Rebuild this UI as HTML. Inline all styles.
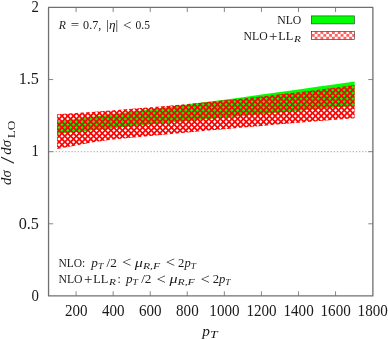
<!DOCTYPE html>
<html><head><meta charset="utf-8"><title>plot</title>
<style>
html,body{margin:0;padding:0;background:#fff;}
body{width:388px;height:339px;overflow:hidden;font-family:"Liberation Serif",serif;}
svg{display:block;}
text{font-family:"Liberation Serif",serif;fill:#1a1a1a;}
.it{font-style:italic;}
</style></head><body>
<svg width="388" height="339" viewBox="0 0 388 339">
<defs>
<filter id="tf" filterUnits="userSpaceOnUse" x="0" y="0" width="388" height="339" color-interpolation-filters="sRGB"><feColorMatrix type="saturate" values="0"/></filter>
</defs>
<rect width="388" height="339" fill="#fff"/>
<line x1="49.30" y1="151.67" x2="372.89" y2="151.67" stroke="#b8b8b8" stroke-width="1.1" stroke-dasharray="1.3 1.86"/>
<polygon points="57.10,121.24 76.08,118.88 94.61,116.56 113.15,114.21 131.68,111.84 150.22,109.44 168.75,107.03 187.28,104.58 205.82,102.12 224.35,99.64 242.89,97.13 261.42,94.59 279.95,92.04 298.49,89.46 317.02,86.86 335.56,84.24 354.60,81.52 354.60,105.88 335.56,107.51 317.02,109.11 298.49,110.73 279.95,112.38 261.42,114.05 242.89,115.74 224.35,117.45 205.82,119.19 187.28,120.95 168.75,122.73 150.22,124.53 131.68,126.36 113.15,128.20 94.61,130.07 76.08,131.97 57.10,133.93" fill="#00ff00"/>
<clipPath id="cr"><polygon points="57.10,114.15 76.08,112.91 94.61,111.63 113.15,110.26 131.68,108.81 150.22,107.28 168.75,105.67 187.28,103.99 205.82,102.21 224.35,100.36 242.89,98.43 261.42,96.42 279.95,94.33 298.49,92.15 317.02,89.90 335.56,87.56 354.60,85.08 354.60,118.22 335.56,119.75 317.02,121.26 298.49,122.79 279.95,124.35 261.42,125.93 242.89,127.54 224.35,129.17 205.82,130.82 187.28,132.50 168.75,134.20 150.22,135.93 131.68,137.68 113.15,139.45 94.61,141.90 76.08,145.40 57.10,148.90"/></clipPath>
<path clip-path="url(#cr)" fill="#ff0000" fill-rule="evenodd" d="M50,75 H360 V155 H50 ZM342.54,84.32L344.22,82.64L345.90,84.32L344.22,86.00ZM348.30,84.32L349.98,82.64L351.66,84.32L349.98,86.00ZM354.06,84.32L355.74,82.64L357.42,84.32L355.74,86.00ZM322.38,87.20L324.06,85.52L325.74,87.20L324.06,88.88ZM328.14,87.20L329.82,85.52L331.50,87.20L329.82,88.88ZM333.90,87.20L335.58,85.52L337.26,87.20L335.58,88.88ZM339.66,87.20L341.34,85.52L343.02,87.20L341.34,88.88ZM345.42,87.20L347.10,85.52L348.78,87.20L347.10,88.88ZM351.18,87.20L352.86,85.52L354.54,87.20L352.86,88.88ZM296.46,90.08L298.14,88.40L299.82,90.08L298.14,91.76ZM302.22,90.08L303.90,88.40L305.58,90.08L303.90,91.76ZM307.98,90.08L309.66,88.40L311.34,90.08L309.66,91.76ZM313.74,90.08L315.42,88.40L317.10,90.08L315.42,91.76ZM319.50,90.08L321.18,88.40L322.86,90.08L321.18,91.76ZM325.26,90.08L326.94,88.40L328.62,90.08L326.94,91.76ZM331.02,90.08L332.70,88.40L334.38,90.08L332.70,91.76ZM336.78,90.08L338.46,88.40L340.14,90.08L338.46,91.76ZM342.54,90.08L344.22,88.40L345.90,90.08L344.22,91.76ZM348.30,90.08L349.98,88.40L351.66,90.08L349.98,91.76ZM354.06,90.08L355.74,88.40L357.42,90.08L355.74,91.76ZM276.30,92.96L277.98,91.28L279.66,92.96L277.98,94.64ZM282.06,92.96L283.74,91.28L285.42,92.96L283.74,94.64ZM287.82,92.96L289.50,91.28L291.18,92.96L289.50,94.64ZM293.58,92.96L295.26,91.28L296.94,92.96L295.26,94.64ZM299.34,92.96L301.02,91.28L302.70,92.96L301.02,94.64ZM305.10,92.96L306.78,91.28L308.46,92.96L306.78,94.64ZM310.86,92.96L312.54,91.28L314.22,92.96L312.54,94.64ZM316.62,92.96L318.30,91.28L319.98,92.96L318.30,94.64ZM322.38,92.96L324.06,91.28L325.74,92.96L324.06,94.64ZM328.14,92.96L329.82,91.28L331.50,92.96L329.82,94.64ZM333.90,92.96L335.58,91.28L337.26,92.96L335.58,94.64ZM339.66,92.96L341.34,91.28L343.02,92.96L341.34,94.64ZM345.42,92.96L347.10,91.28L348.78,92.96L347.10,94.64ZM351.18,92.96L352.86,91.28L354.54,92.96L352.86,94.64ZM250.38,95.84L252.06,94.16L253.74,95.84L252.06,97.52ZM256.14,95.84L257.82,94.16L259.50,95.84L257.82,97.52ZM261.90,95.84L263.58,94.16L265.26,95.84L263.58,97.52ZM267.66,95.84L269.34,94.16L271.02,95.84L269.34,97.52ZM273.42,95.84L275.10,94.16L276.78,95.84L275.10,97.52ZM279.18,95.84L280.86,94.16L282.54,95.84L280.86,97.52ZM284.94,95.84L286.62,94.16L288.30,95.84L286.62,97.52ZM290.70,95.84L292.38,94.16L294.06,95.84L292.38,97.52ZM296.46,95.84L298.14,94.16L299.82,95.84L298.14,97.52ZM302.22,95.84L303.90,94.16L305.58,95.84L303.90,97.52ZM307.98,95.84L309.66,94.16L311.34,95.84L309.66,97.52ZM313.74,95.84L315.42,94.16L317.10,95.84L315.42,97.52ZM319.50,95.84L321.18,94.16L322.86,95.84L321.18,97.52ZM325.26,95.84L326.94,94.16L328.62,95.84L326.94,97.52ZM331.02,95.84L332.70,94.16L334.38,95.84L332.70,97.52ZM336.78,95.84L338.46,94.16L340.14,95.84L338.46,97.52ZM342.54,95.84L344.22,94.16L345.90,95.84L344.22,97.52ZM348.30,95.84L349.98,94.16L351.66,95.84L349.98,97.52ZM354.06,95.84L355.74,94.16L357.42,95.84L355.74,97.52ZM218.70,98.72L220.38,97.04L222.06,98.72L220.38,100.40ZM224.46,98.72L226.14,97.04L227.82,98.72L226.14,100.40ZM230.22,98.72L231.90,97.04L233.58,98.72L231.90,100.40ZM235.98,98.72L237.66,97.04L239.34,98.72L237.66,100.40ZM241.74,98.72L243.42,97.04L245.10,98.72L243.42,100.40ZM247.50,98.72L249.18,97.04L250.86,98.72L249.18,100.40ZM253.26,98.72L254.94,97.04L256.62,98.72L254.94,100.40ZM259.02,98.72L260.70,97.04L262.38,98.72L260.70,100.40ZM264.78,98.72L266.46,97.04L268.14,98.72L266.46,100.40ZM270.54,98.72L272.22,97.04L273.90,98.72L272.22,100.40ZM276.30,98.72L277.98,97.04L279.66,98.72L277.98,100.40ZM282.06,98.72L283.74,97.04L285.42,98.72L283.74,100.40ZM287.82,98.72L289.50,97.04L291.18,98.72L289.50,100.40ZM293.58,98.72L295.26,97.04L296.94,98.72L295.26,100.40ZM299.34,98.72L301.02,97.04L302.70,98.72L301.02,100.40ZM305.10,98.72L306.78,97.04L308.46,98.72L306.78,100.40ZM310.86,98.72L312.54,97.04L314.22,98.72L312.54,100.40ZM316.62,98.72L318.30,97.04L319.98,98.72L318.30,100.40ZM322.38,98.72L324.06,97.04L325.74,98.72L324.06,100.40ZM328.14,98.72L329.82,97.04L331.50,98.72L329.82,100.40ZM333.90,98.72L335.58,97.04L337.26,98.72L335.58,100.40ZM339.66,98.72L341.34,97.04L343.02,98.72L341.34,100.40ZM345.42,98.72L347.10,97.04L348.78,98.72L347.10,100.40ZM351.18,98.72L352.86,97.04L354.54,98.72L352.86,100.40ZM192.78,101.60L194.46,99.92L196.14,101.60L194.46,103.28ZM198.54,101.60L200.22,99.92L201.90,101.60L200.22,103.28ZM204.30,101.60L205.98,99.92L207.66,101.60L205.98,103.28ZM210.06,101.60L211.74,99.92L213.42,101.60L211.74,103.28ZM215.82,101.60L217.50,99.92L219.18,101.60L217.50,103.28ZM221.58,101.60L223.26,99.92L224.94,101.60L223.26,103.28ZM227.34,101.60L229.02,99.92L230.70,101.60L229.02,103.28ZM233.10,101.60L234.78,99.92L236.46,101.60L234.78,103.28ZM238.86,101.60L240.54,99.92L242.22,101.60L240.54,103.28ZM244.62,101.60L246.30,99.92L247.98,101.60L246.30,103.28ZM250.38,101.60L252.06,99.92L253.74,101.60L252.06,103.28ZM256.14,101.60L257.82,99.92L259.50,101.60L257.82,103.28ZM261.90,101.60L263.58,99.92L265.26,101.60L263.58,103.28ZM267.66,101.60L269.34,99.92L271.02,101.60L269.34,103.28ZM273.42,101.60L275.10,99.92L276.78,101.60L275.10,103.28ZM279.18,101.60L280.86,99.92L282.54,101.60L280.86,103.28ZM284.94,101.60L286.62,99.92L288.30,101.60L286.62,103.28ZM290.70,101.60L292.38,99.92L294.06,101.60L292.38,103.28ZM296.46,101.60L298.14,99.92L299.82,101.60L298.14,103.28ZM302.22,101.60L303.90,99.92L305.58,101.60L303.90,103.28ZM307.98,101.60L309.66,99.92L311.34,101.60L309.66,103.28ZM313.74,101.60L315.42,99.92L317.10,101.60L315.42,103.28ZM319.50,101.60L321.18,99.92L322.86,101.60L321.18,103.28ZM325.26,101.60L326.94,99.92L328.62,101.60L326.94,103.28ZM331.02,101.60L332.70,99.92L334.38,101.60L332.70,103.28ZM336.78,101.60L338.46,99.92L340.14,101.60L338.46,103.28ZM342.54,101.60L344.22,99.92L345.90,101.60L344.22,103.28ZM348.30,101.60L349.98,99.92L351.66,101.60L349.98,103.28ZM354.06,101.60L355.74,99.92L357.42,101.60L355.74,103.28ZM161.10,104.48L162.78,102.80L164.46,104.48L162.78,106.16ZM166.86,104.48L168.54,102.80L170.22,104.48L168.54,106.16ZM172.62,104.48L174.30,102.80L175.98,104.48L174.30,106.16ZM178.38,104.48L180.06,102.80L181.74,104.48L180.06,106.16ZM184.14,104.48L185.82,102.80L187.50,104.48L185.82,106.16ZM189.90,104.48L191.58,102.80L193.26,104.48L191.58,106.16ZM195.66,104.48L197.34,102.80L199.02,104.48L197.34,106.16ZM201.42,104.48L203.10,102.80L204.78,104.48L203.10,106.16ZM207.18,104.48L208.86,102.80L210.54,104.48L208.86,106.16ZM212.94,104.48L214.62,102.80L216.30,104.48L214.62,106.16ZM218.70,104.48L220.38,102.80L222.06,104.48L220.38,106.16ZM224.46,104.48L226.14,102.80L227.82,104.48L226.14,106.16ZM230.22,104.48L231.90,102.80L233.58,104.48L231.90,106.16ZM235.98,104.48L237.66,102.80L239.34,104.48L237.66,106.16ZM241.74,104.48L243.42,102.80L245.10,104.48L243.42,106.16ZM247.50,104.48L249.18,102.80L250.86,104.48L249.18,106.16ZM253.26,104.48L254.94,102.80L256.62,104.48L254.94,106.16ZM259.02,104.48L260.70,102.80L262.38,104.48L260.70,106.16ZM264.78,104.48L266.46,102.80L268.14,104.48L266.46,106.16ZM270.54,104.48L272.22,102.80L273.90,104.48L272.22,106.16ZM276.30,104.48L277.98,102.80L279.66,104.48L277.98,106.16ZM282.06,104.48L283.74,102.80L285.42,104.48L283.74,106.16ZM287.82,104.48L289.50,102.80L291.18,104.48L289.50,106.16ZM293.58,104.48L295.26,102.80L296.94,104.48L295.26,106.16ZM299.34,104.48L301.02,102.80L302.70,104.48L301.02,106.16ZM305.10,104.48L306.78,102.80L308.46,104.48L306.78,106.16ZM310.86,104.48L312.54,102.80L314.22,104.48L312.54,106.16ZM316.62,104.48L318.30,102.80L319.98,104.48L318.30,106.16ZM322.38,104.48L324.06,102.80L325.74,104.48L324.06,106.16ZM328.14,104.48L329.82,102.80L331.50,104.48L329.82,106.16ZM333.90,104.48L335.58,102.80L337.26,104.48L335.58,106.16ZM339.66,104.48L341.34,102.80L343.02,104.48L341.34,106.16ZM345.42,104.48L347.10,102.80L348.78,104.48L347.10,106.16ZM351.18,104.48L352.86,102.80L354.54,104.48L352.86,106.16ZM123.66,107.36L125.34,105.68L127.02,107.36L125.34,109.04ZM129.42,107.36L131.10,105.68L132.78,107.36L131.10,109.04ZM135.18,107.36L136.86,105.68L138.54,107.36L136.86,109.04ZM140.94,107.36L142.62,105.68L144.30,107.36L142.62,109.04ZM146.70,107.36L148.38,105.68L150.06,107.36L148.38,109.04ZM152.46,107.36L154.14,105.68L155.82,107.36L154.14,109.04ZM158.22,107.36L159.90,105.68L161.58,107.36L159.90,109.04ZM163.98,107.36L165.66,105.68L167.34,107.36L165.66,109.04ZM169.74,107.36L171.42,105.68L173.10,107.36L171.42,109.04ZM175.50,107.36L177.18,105.68L178.86,107.36L177.18,109.04ZM181.26,107.36L182.94,105.68L184.62,107.36L182.94,109.04ZM187.02,107.36L188.70,105.68L190.38,107.36L188.70,109.04ZM192.78,107.36L194.46,105.68L196.14,107.36L194.46,109.04ZM198.54,107.36L200.22,105.68L201.90,107.36L200.22,109.04ZM204.30,107.36L205.98,105.68L207.66,107.36L205.98,109.04ZM210.06,107.36L211.74,105.68L213.42,107.36L211.74,109.04ZM215.82,107.36L217.50,105.68L219.18,107.36L217.50,109.04ZM221.58,107.36L223.26,105.68L224.94,107.36L223.26,109.04ZM227.34,107.36L229.02,105.68L230.70,107.36L229.02,109.04ZM233.10,107.36L234.78,105.68L236.46,107.36L234.78,109.04ZM238.86,107.36L240.54,105.68L242.22,107.36L240.54,109.04ZM244.62,107.36L246.30,105.68L247.98,107.36L246.30,109.04ZM250.38,107.36L252.06,105.68L253.74,107.36L252.06,109.04ZM256.14,107.36L257.82,105.68L259.50,107.36L257.82,109.04ZM261.90,107.36L263.58,105.68L265.26,107.36L263.58,109.04ZM267.66,107.36L269.34,105.68L271.02,107.36L269.34,109.04ZM273.42,107.36L275.10,105.68L276.78,107.36L275.10,109.04ZM279.18,107.36L280.86,105.68L282.54,107.36L280.86,109.04ZM284.94,107.36L286.62,105.68L288.30,107.36L286.62,109.04ZM290.70,107.36L292.38,105.68L294.06,107.36L292.38,109.04ZM296.46,107.36L298.14,105.68L299.82,107.36L298.14,109.04ZM302.22,107.36L303.90,105.68L305.58,107.36L303.90,109.04ZM307.98,107.36L309.66,105.68L311.34,107.36L309.66,109.04ZM313.74,107.36L315.42,105.68L317.10,107.36L315.42,109.04ZM319.50,107.36L321.18,105.68L322.86,107.36L321.18,109.04ZM325.26,107.36L326.94,105.68L328.62,107.36L326.94,109.04ZM331.02,107.36L332.70,105.68L334.38,107.36L332.70,109.04ZM336.78,107.36L338.46,105.68L340.14,107.36L338.46,109.04ZM342.54,107.36L344.22,105.68L345.90,107.36L344.22,109.04ZM348.30,107.36L349.98,105.68L351.66,107.36L349.98,109.04ZM354.06,107.36L355.74,105.68L357.42,107.36L355.74,109.04ZM86.22,110.24L87.90,108.56L89.58,110.24L87.90,111.92ZM91.98,110.24L93.66,108.56L95.34,110.24L93.66,111.92ZM97.74,110.24L99.42,108.56L101.10,110.24L99.42,111.92ZM103.50,110.24L105.18,108.56L106.86,110.24L105.18,111.92ZM109.26,110.24L110.94,108.56L112.62,110.24L110.94,111.92ZM115.02,110.24L116.70,108.56L118.38,110.24L116.70,111.92ZM120.78,110.24L122.46,108.56L124.14,110.24L122.46,111.92ZM126.54,110.24L128.22,108.56L129.90,110.24L128.22,111.92ZM132.30,110.24L133.98,108.56L135.66,110.24L133.98,111.92ZM138.06,110.24L139.74,108.56L141.42,110.24L139.74,111.92ZM143.82,110.24L145.50,108.56L147.18,110.24L145.50,111.92ZM149.58,110.24L151.26,108.56L152.94,110.24L151.26,111.92ZM155.34,110.24L157.02,108.56L158.70,110.24L157.02,111.92ZM161.10,110.24L162.78,108.56L164.46,110.24L162.78,111.92ZM166.86,110.24L168.54,108.56L170.22,110.24L168.54,111.92ZM172.62,110.24L174.30,108.56L175.98,110.24L174.30,111.92ZM178.38,110.24L180.06,108.56L181.74,110.24L180.06,111.92ZM184.14,110.24L185.82,108.56L187.50,110.24L185.82,111.92ZM189.90,110.24L191.58,108.56L193.26,110.24L191.58,111.92ZM195.66,110.24L197.34,108.56L199.02,110.24L197.34,111.92ZM201.42,110.24L203.10,108.56L204.78,110.24L203.10,111.92ZM207.18,110.24L208.86,108.56L210.54,110.24L208.86,111.92ZM212.94,110.24L214.62,108.56L216.30,110.24L214.62,111.92ZM218.70,110.24L220.38,108.56L222.06,110.24L220.38,111.92ZM224.46,110.24L226.14,108.56L227.82,110.24L226.14,111.92ZM230.22,110.24L231.90,108.56L233.58,110.24L231.90,111.92ZM235.98,110.24L237.66,108.56L239.34,110.24L237.66,111.92ZM241.74,110.24L243.42,108.56L245.10,110.24L243.42,111.92ZM247.50,110.24L249.18,108.56L250.86,110.24L249.18,111.92ZM253.26,110.24L254.94,108.56L256.62,110.24L254.94,111.92ZM259.02,110.24L260.70,108.56L262.38,110.24L260.70,111.92ZM264.78,110.24L266.46,108.56L268.14,110.24L266.46,111.92ZM270.54,110.24L272.22,108.56L273.90,110.24L272.22,111.92ZM276.30,110.24L277.98,108.56L279.66,110.24L277.98,111.92ZM282.06,110.24L283.74,108.56L285.42,110.24L283.74,111.92ZM287.82,110.24L289.50,108.56L291.18,110.24L289.50,111.92ZM293.58,110.24L295.26,108.56L296.94,110.24L295.26,111.92ZM299.34,110.24L301.02,108.56L302.70,110.24L301.02,111.92ZM305.10,110.24L306.78,108.56L308.46,110.24L306.78,111.92ZM310.86,110.24L312.54,108.56L314.22,110.24L312.54,111.92ZM316.62,110.24L318.30,108.56L319.98,110.24L318.30,111.92ZM322.38,110.24L324.06,108.56L325.74,110.24L324.06,111.92ZM328.14,110.24L329.82,108.56L331.50,110.24L329.82,111.92ZM333.90,110.24L335.58,108.56L337.26,110.24L335.58,111.92ZM339.66,110.24L341.34,108.56L343.02,110.24L341.34,111.92ZM345.42,110.24L347.10,108.56L348.78,110.24L347.10,111.92ZM351.18,110.24L352.86,108.56L354.54,110.24L352.86,111.92ZM54.54,113.12L56.22,111.44L57.90,113.12L56.22,114.80ZM60.30,113.12L61.98,111.44L63.66,113.12L61.98,114.80ZM66.06,113.12L67.74,111.44L69.42,113.12L67.74,114.80ZM71.82,113.12L73.50,111.44L75.18,113.12L73.50,114.80ZM77.58,113.12L79.26,111.44L80.94,113.12L79.26,114.80ZM83.34,113.12L85.02,111.44L86.70,113.12L85.02,114.80ZM89.10,113.12L90.78,111.44L92.46,113.12L90.78,114.80ZM94.86,113.12L96.54,111.44L98.22,113.12L96.54,114.80ZM100.62,113.12L102.30,111.44L103.98,113.12L102.30,114.80ZM106.38,113.12L108.06,111.44L109.74,113.12L108.06,114.80ZM112.14,113.12L113.82,111.44L115.50,113.12L113.82,114.80ZM117.90,113.12L119.58,111.44L121.26,113.12L119.58,114.80ZM123.66,113.12L125.34,111.44L127.02,113.12L125.34,114.80ZM129.42,113.12L131.10,111.44L132.78,113.12L131.10,114.80ZM135.18,113.12L136.86,111.44L138.54,113.12L136.86,114.80ZM140.94,113.12L142.62,111.44L144.30,113.12L142.62,114.80ZM146.70,113.12L148.38,111.44L150.06,113.12L148.38,114.80ZM152.46,113.12L154.14,111.44L155.82,113.12L154.14,114.80ZM158.22,113.12L159.90,111.44L161.58,113.12L159.90,114.80ZM163.98,113.12L165.66,111.44L167.34,113.12L165.66,114.80ZM169.74,113.12L171.42,111.44L173.10,113.12L171.42,114.80ZM175.50,113.12L177.18,111.44L178.86,113.12L177.18,114.80ZM181.26,113.12L182.94,111.44L184.62,113.12L182.94,114.80ZM187.02,113.12L188.70,111.44L190.38,113.12L188.70,114.80ZM192.78,113.12L194.46,111.44L196.14,113.12L194.46,114.80ZM198.54,113.12L200.22,111.44L201.90,113.12L200.22,114.80ZM204.30,113.12L205.98,111.44L207.66,113.12L205.98,114.80ZM210.06,113.12L211.74,111.44L213.42,113.12L211.74,114.80ZM215.82,113.12L217.50,111.44L219.18,113.12L217.50,114.80ZM221.58,113.12L223.26,111.44L224.94,113.12L223.26,114.80ZM227.34,113.12L229.02,111.44L230.70,113.12L229.02,114.80ZM233.10,113.12L234.78,111.44L236.46,113.12L234.78,114.80ZM238.86,113.12L240.54,111.44L242.22,113.12L240.54,114.80ZM244.62,113.12L246.30,111.44L247.98,113.12L246.30,114.80ZM250.38,113.12L252.06,111.44L253.74,113.12L252.06,114.80ZM256.14,113.12L257.82,111.44L259.50,113.12L257.82,114.80ZM261.90,113.12L263.58,111.44L265.26,113.12L263.58,114.80ZM267.66,113.12L269.34,111.44L271.02,113.12L269.34,114.80ZM273.42,113.12L275.10,111.44L276.78,113.12L275.10,114.80ZM279.18,113.12L280.86,111.44L282.54,113.12L280.86,114.80ZM284.94,113.12L286.62,111.44L288.30,113.12L286.62,114.80ZM290.70,113.12L292.38,111.44L294.06,113.12L292.38,114.80ZM296.46,113.12L298.14,111.44L299.82,113.12L298.14,114.80ZM302.22,113.12L303.90,111.44L305.58,113.12L303.90,114.80ZM307.98,113.12L309.66,111.44L311.34,113.12L309.66,114.80ZM313.74,113.12L315.42,111.44L317.10,113.12L315.42,114.80ZM319.50,113.12L321.18,111.44L322.86,113.12L321.18,114.80ZM325.26,113.12L326.94,111.44L328.62,113.12L326.94,114.80ZM331.02,113.12L332.70,111.44L334.38,113.12L332.70,114.80ZM336.78,113.12L338.46,111.44L340.14,113.12L338.46,114.80ZM342.54,113.12L344.22,111.44L345.90,113.12L344.22,114.80ZM348.30,113.12L349.98,111.44L351.66,113.12L349.98,114.80ZM354.06,113.12L355.74,111.44L357.42,113.12L355.74,114.80ZM57.42,116.00L59.10,114.32L60.78,116.00L59.10,117.68ZM63.18,116.00L64.86,114.32L66.54,116.00L64.86,117.68ZM68.94,116.00L70.62,114.32L72.30,116.00L70.62,117.68ZM74.70,116.00L76.38,114.32L78.06,116.00L76.38,117.68ZM80.46,116.00L82.14,114.32L83.82,116.00L82.14,117.68ZM86.22,116.00L87.90,114.32L89.58,116.00L87.90,117.68ZM91.98,116.00L93.66,114.32L95.34,116.00L93.66,117.68ZM97.74,116.00L99.42,114.32L101.10,116.00L99.42,117.68ZM103.50,116.00L105.18,114.32L106.86,116.00L105.18,117.68ZM109.26,116.00L110.94,114.32L112.62,116.00L110.94,117.68ZM115.02,116.00L116.70,114.32L118.38,116.00L116.70,117.68ZM120.78,116.00L122.46,114.32L124.14,116.00L122.46,117.68ZM126.54,116.00L128.22,114.32L129.90,116.00L128.22,117.68ZM132.30,116.00L133.98,114.32L135.66,116.00L133.98,117.68ZM138.06,116.00L139.74,114.32L141.42,116.00L139.74,117.68ZM143.82,116.00L145.50,114.32L147.18,116.00L145.50,117.68ZM149.58,116.00L151.26,114.32L152.94,116.00L151.26,117.68ZM155.34,116.00L157.02,114.32L158.70,116.00L157.02,117.68ZM161.10,116.00L162.78,114.32L164.46,116.00L162.78,117.68ZM166.86,116.00L168.54,114.32L170.22,116.00L168.54,117.68ZM172.62,116.00L174.30,114.32L175.98,116.00L174.30,117.68ZM178.38,116.00L180.06,114.32L181.74,116.00L180.06,117.68ZM184.14,116.00L185.82,114.32L187.50,116.00L185.82,117.68ZM189.90,116.00L191.58,114.32L193.26,116.00L191.58,117.68ZM195.66,116.00L197.34,114.32L199.02,116.00L197.34,117.68ZM201.42,116.00L203.10,114.32L204.78,116.00L203.10,117.68ZM207.18,116.00L208.86,114.32L210.54,116.00L208.86,117.68ZM212.94,116.00L214.62,114.32L216.30,116.00L214.62,117.68ZM218.70,116.00L220.38,114.32L222.06,116.00L220.38,117.68ZM224.46,116.00L226.14,114.32L227.82,116.00L226.14,117.68ZM230.22,116.00L231.90,114.32L233.58,116.00L231.90,117.68ZM235.98,116.00L237.66,114.32L239.34,116.00L237.66,117.68ZM241.74,116.00L243.42,114.32L245.10,116.00L243.42,117.68ZM247.50,116.00L249.18,114.32L250.86,116.00L249.18,117.68ZM253.26,116.00L254.94,114.32L256.62,116.00L254.94,117.68ZM259.02,116.00L260.70,114.32L262.38,116.00L260.70,117.68ZM264.78,116.00L266.46,114.32L268.14,116.00L266.46,117.68ZM270.54,116.00L272.22,114.32L273.90,116.00L272.22,117.68ZM276.30,116.00L277.98,114.32L279.66,116.00L277.98,117.68ZM282.06,116.00L283.74,114.32L285.42,116.00L283.74,117.68ZM287.82,116.00L289.50,114.32L291.18,116.00L289.50,117.68ZM293.58,116.00L295.26,114.32L296.94,116.00L295.26,117.68ZM299.34,116.00L301.02,114.32L302.70,116.00L301.02,117.68ZM305.10,116.00L306.78,114.32L308.46,116.00L306.78,117.68ZM310.86,116.00L312.54,114.32L314.22,116.00L312.54,117.68ZM316.62,116.00L318.30,114.32L319.98,116.00L318.30,117.68ZM322.38,116.00L324.06,114.32L325.74,116.00L324.06,117.68ZM328.14,116.00L329.82,114.32L331.50,116.00L329.82,117.68ZM333.90,116.00L335.58,114.32L337.26,116.00L335.58,117.68ZM339.66,116.00L341.34,114.32L343.02,116.00L341.34,117.68ZM345.42,116.00L347.10,114.32L348.78,116.00L347.10,117.68ZM351.18,116.00L352.86,114.32L354.54,116.00L352.86,117.68ZM54.54,118.88L56.22,117.20L57.90,118.88L56.22,120.56ZM60.30,118.88L61.98,117.20L63.66,118.88L61.98,120.56ZM66.06,118.88L67.74,117.20L69.42,118.88L67.74,120.56ZM71.82,118.88L73.50,117.20L75.18,118.88L73.50,120.56ZM77.58,118.88L79.26,117.20L80.94,118.88L79.26,120.56ZM83.34,118.88L85.02,117.20L86.70,118.88L85.02,120.56ZM89.10,118.88L90.78,117.20L92.46,118.88L90.78,120.56ZM94.86,118.88L96.54,117.20L98.22,118.88L96.54,120.56ZM100.62,118.88L102.30,117.20L103.98,118.88L102.30,120.56ZM106.38,118.88L108.06,117.20L109.74,118.88L108.06,120.56ZM112.14,118.88L113.82,117.20L115.50,118.88L113.82,120.56ZM117.90,118.88L119.58,117.20L121.26,118.88L119.58,120.56ZM123.66,118.88L125.34,117.20L127.02,118.88L125.34,120.56ZM129.42,118.88L131.10,117.20L132.78,118.88L131.10,120.56ZM135.18,118.88L136.86,117.20L138.54,118.88L136.86,120.56ZM140.94,118.88L142.62,117.20L144.30,118.88L142.62,120.56ZM146.70,118.88L148.38,117.20L150.06,118.88L148.38,120.56ZM152.46,118.88L154.14,117.20L155.82,118.88L154.14,120.56ZM158.22,118.88L159.90,117.20L161.58,118.88L159.90,120.56ZM163.98,118.88L165.66,117.20L167.34,118.88L165.66,120.56ZM169.74,118.88L171.42,117.20L173.10,118.88L171.42,120.56ZM175.50,118.88L177.18,117.20L178.86,118.88L177.18,120.56ZM181.26,118.88L182.94,117.20L184.62,118.88L182.94,120.56ZM187.02,118.88L188.70,117.20L190.38,118.88L188.70,120.56ZM192.78,118.88L194.46,117.20L196.14,118.88L194.46,120.56ZM198.54,118.88L200.22,117.20L201.90,118.88L200.22,120.56ZM204.30,118.88L205.98,117.20L207.66,118.88L205.98,120.56ZM210.06,118.88L211.74,117.20L213.42,118.88L211.74,120.56ZM215.82,118.88L217.50,117.20L219.18,118.88L217.50,120.56ZM221.58,118.88L223.26,117.20L224.94,118.88L223.26,120.56ZM227.34,118.88L229.02,117.20L230.70,118.88L229.02,120.56ZM233.10,118.88L234.78,117.20L236.46,118.88L234.78,120.56ZM238.86,118.88L240.54,117.20L242.22,118.88L240.54,120.56ZM244.62,118.88L246.30,117.20L247.98,118.88L246.30,120.56ZM250.38,118.88L252.06,117.20L253.74,118.88L252.06,120.56ZM256.14,118.88L257.82,117.20L259.50,118.88L257.82,120.56ZM261.90,118.88L263.58,117.20L265.26,118.88L263.58,120.56ZM267.66,118.88L269.34,117.20L271.02,118.88L269.34,120.56ZM273.42,118.88L275.10,117.20L276.78,118.88L275.10,120.56ZM279.18,118.88L280.86,117.20L282.54,118.88L280.86,120.56ZM284.94,118.88L286.62,117.20L288.30,118.88L286.62,120.56ZM290.70,118.88L292.38,117.20L294.06,118.88L292.38,120.56ZM296.46,118.88L298.14,117.20L299.82,118.88L298.14,120.56ZM302.22,118.88L303.90,117.20L305.58,118.88L303.90,120.56ZM307.98,118.88L309.66,117.20L311.34,118.88L309.66,120.56ZM313.74,118.88L315.42,117.20L317.10,118.88L315.42,120.56ZM319.50,118.88L321.18,117.20L322.86,118.88L321.18,120.56ZM325.26,118.88L326.94,117.20L328.62,118.88L326.94,120.56ZM331.02,118.88L332.70,117.20L334.38,118.88L332.70,120.56ZM336.78,118.88L338.46,117.20L340.14,118.88L338.46,120.56ZM342.54,118.88L344.22,117.20L345.90,118.88L344.22,120.56ZM348.30,118.88L349.98,117.20L351.66,118.88L349.98,120.56ZM354.06,118.88L355.74,117.20L357.42,118.88L355.74,120.56ZM57.42,121.76L59.10,120.08L60.78,121.76L59.10,123.44ZM63.18,121.76L64.86,120.08L66.54,121.76L64.86,123.44ZM68.94,121.76L70.62,120.08L72.30,121.76L70.62,123.44ZM74.70,121.76L76.38,120.08L78.06,121.76L76.38,123.44ZM80.46,121.76L82.14,120.08L83.82,121.76L82.14,123.44ZM86.22,121.76L87.90,120.08L89.58,121.76L87.90,123.44ZM91.98,121.76L93.66,120.08L95.34,121.76L93.66,123.44ZM97.74,121.76L99.42,120.08L101.10,121.76L99.42,123.44ZM103.50,121.76L105.18,120.08L106.86,121.76L105.18,123.44ZM109.26,121.76L110.94,120.08L112.62,121.76L110.94,123.44ZM115.02,121.76L116.70,120.08L118.38,121.76L116.70,123.44ZM120.78,121.76L122.46,120.08L124.14,121.76L122.46,123.44ZM126.54,121.76L128.22,120.08L129.90,121.76L128.22,123.44ZM132.30,121.76L133.98,120.08L135.66,121.76L133.98,123.44ZM138.06,121.76L139.74,120.08L141.42,121.76L139.74,123.44ZM143.82,121.76L145.50,120.08L147.18,121.76L145.50,123.44ZM149.58,121.76L151.26,120.08L152.94,121.76L151.26,123.44ZM155.34,121.76L157.02,120.08L158.70,121.76L157.02,123.44ZM161.10,121.76L162.78,120.08L164.46,121.76L162.78,123.44ZM166.86,121.76L168.54,120.08L170.22,121.76L168.54,123.44ZM172.62,121.76L174.30,120.08L175.98,121.76L174.30,123.44ZM178.38,121.76L180.06,120.08L181.74,121.76L180.06,123.44ZM184.14,121.76L185.82,120.08L187.50,121.76L185.82,123.44ZM189.90,121.76L191.58,120.08L193.26,121.76L191.58,123.44ZM195.66,121.76L197.34,120.08L199.02,121.76L197.34,123.44ZM201.42,121.76L203.10,120.08L204.78,121.76L203.10,123.44ZM207.18,121.76L208.86,120.08L210.54,121.76L208.86,123.44ZM212.94,121.76L214.62,120.08L216.30,121.76L214.62,123.44ZM218.70,121.76L220.38,120.08L222.06,121.76L220.38,123.44ZM224.46,121.76L226.14,120.08L227.82,121.76L226.14,123.44ZM230.22,121.76L231.90,120.08L233.58,121.76L231.90,123.44ZM235.98,121.76L237.66,120.08L239.34,121.76L237.66,123.44ZM241.74,121.76L243.42,120.08L245.10,121.76L243.42,123.44ZM247.50,121.76L249.18,120.08L250.86,121.76L249.18,123.44ZM253.26,121.76L254.94,120.08L256.62,121.76L254.94,123.44ZM259.02,121.76L260.70,120.08L262.38,121.76L260.70,123.44ZM264.78,121.76L266.46,120.08L268.14,121.76L266.46,123.44ZM270.54,121.76L272.22,120.08L273.90,121.76L272.22,123.44ZM276.30,121.76L277.98,120.08L279.66,121.76L277.98,123.44ZM282.06,121.76L283.74,120.08L285.42,121.76L283.74,123.44ZM287.82,121.76L289.50,120.08L291.18,121.76L289.50,123.44ZM293.58,121.76L295.26,120.08L296.94,121.76L295.26,123.44ZM299.34,121.76L301.02,120.08L302.70,121.76L301.02,123.44ZM305.10,121.76L306.78,120.08L308.46,121.76L306.78,123.44ZM310.86,121.76L312.54,120.08L314.22,121.76L312.54,123.44ZM316.62,121.76L318.30,120.08L319.98,121.76L318.30,123.44ZM322.38,121.76L324.06,120.08L325.74,121.76L324.06,123.44ZM328.14,121.76L329.82,120.08L331.50,121.76L329.82,123.44ZM333.90,121.76L335.58,120.08L337.26,121.76L335.58,123.44ZM54.54,124.64L56.22,122.96L57.90,124.64L56.22,126.32ZM60.30,124.64L61.98,122.96L63.66,124.64L61.98,126.32ZM66.06,124.64L67.74,122.96L69.42,124.64L67.74,126.32ZM71.82,124.64L73.50,122.96L75.18,124.64L73.50,126.32ZM77.58,124.64L79.26,122.96L80.94,124.64L79.26,126.32ZM83.34,124.64L85.02,122.96L86.70,124.64L85.02,126.32ZM89.10,124.64L90.78,122.96L92.46,124.64L90.78,126.32ZM94.86,124.64L96.54,122.96L98.22,124.64L96.54,126.32ZM100.62,124.64L102.30,122.96L103.98,124.64L102.30,126.32ZM106.38,124.64L108.06,122.96L109.74,124.64L108.06,126.32ZM112.14,124.64L113.82,122.96L115.50,124.64L113.82,126.32ZM117.90,124.64L119.58,122.96L121.26,124.64L119.58,126.32ZM123.66,124.64L125.34,122.96L127.02,124.64L125.34,126.32ZM129.42,124.64L131.10,122.96L132.78,124.64L131.10,126.32ZM135.18,124.64L136.86,122.96L138.54,124.64L136.86,126.32ZM140.94,124.64L142.62,122.96L144.30,124.64L142.62,126.32ZM146.70,124.64L148.38,122.96L150.06,124.64L148.38,126.32ZM152.46,124.64L154.14,122.96L155.82,124.64L154.14,126.32ZM158.22,124.64L159.90,122.96L161.58,124.64L159.90,126.32ZM163.98,124.64L165.66,122.96L167.34,124.64L165.66,126.32ZM169.74,124.64L171.42,122.96L173.10,124.64L171.42,126.32ZM175.50,124.64L177.18,122.96L178.86,124.64L177.18,126.32ZM181.26,124.64L182.94,122.96L184.62,124.64L182.94,126.32ZM187.02,124.64L188.70,122.96L190.38,124.64L188.70,126.32ZM192.78,124.64L194.46,122.96L196.14,124.64L194.46,126.32ZM198.54,124.64L200.22,122.96L201.90,124.64L200.22,126.32ZM204.30,124.64L205.98,122.96L207.66,124.64L205.98,126.32ZM210.06,124.64L211.74,122.96L213.42,124.64L211.74,126.32ZM215.82,124.64L217.50,122.96L219.18,124.64L217.50,126.32ZM221.58,124.64L223.26,122.96L224.94,124.64L223.26,126.32ZM227.34,124.64L229.02,122.96L230.70,124.64L229.02,126.32ZM233.10,124.64L234.78,122.96L236.46,124.64L234.78,126.32ZM238.86,124.64L240.54,122.96L242.22,124.64L240.54,126.32ZM244.62,124.64L246.30,122.96L247.98,124.64L246.30,126.32ZM250.38,124.64L252.06,122.96L253.74,124.64L252.06,126.32ZM256.14,124.64L257.82,122.96L259.50,124.64L257.82,126.32ZM261.90,124.64L263.58,122.96L265.26,124.64L263.58,126.32ZM267.66,124.64L269.34,122.96L271.02,124.64L269.34,126.32ZM273.42,124.64L275.10,122.96L276.78,124.64L275.10,126.32ZM279.18,124.64L280.86,122.96L282.54,124.64L280.86,126.32ZM284.94,124.64L286.62,122.96L288.30,124.64L286.62,126.32ZM290.70,124.64L292.38,122.96L294.06,124.64L292.38,126.32ZM296.46,124.64L298.14,122.96L299.82,124.64L298.14,126.32ZM57.42,127.52L59.10,125.84L60.78,127.52L59.10,129.20ZM63.18,127.52L64.86,125.84L66.54,127.52L64.86,129.20ZM68.94,127.52L70.62,125.84L72.30,127.52L70.62,129.20ZM74.70,127.52L76.38,125.84L78.06,127.52L76.38,129.20ZM80.46,127.52L82.14,125.84L83.82,127.52L82.14,129.20ZM86.22,127.52L87.90,125.84L89.58,127.52L87.90,129.20ZM91.98,127.52L93.66,125.84L95.34,127.52L93.66,129.20ZM97.74,127.52L99.42,125.84L101.10,127.52L99.42,129.20ZM103.50,127.52L105.18,125.84L106.86,127.52L105.18,129.20ZM109.26,127.52L110.94,125.84L112.62,127.52L110.94,129.20ZM115.02,127.52L116.70,125.84L118.38,127.52L116.70,129.20ZM120.78,127.52L122.46,125.84L124.14,127.52L122.46,129.20ZM126.54,127.52L128.22,125.84L129.90,127.52L128.22,129.20ZM132.30,127.52L133.98,125.84L135.66,127.52L133.98,129.20ZM138.06,127.52L139.74,125.84L141.42,127.52L139.74,129.20ZM143.82,127.52L145.50,125.84L147.18,127.52L145.50,129.20ZM149.58,127.52L151.26,125.84L152.94,127.52L151.26,129.20ZM155.34,127.52L157.02,125.84L158.70,127.52L157.02,129.20ZM161.10,127.52L162.78,125.84L164.46,127.52L162.78,129.20ZM166.86,127.52L168.54,125.84L170.22,127.52L168.54,129.20ZM172.62,127.52L174.30,125.84L175.98,127.52L174.30,129.20ZM178.38,127.52L180.06,125.84L181.74,127.52L180.06,129.20ZM184.14,127.52L185.82,125.84L187.50,127.52L185.82,129.20ZM189.90,127.52L191.58,125.84L193.26,127.52L191.58,129.20ZM195.66,127.52L197.34,125.84L199.02,127.52L197.34,129.20ZM201.42,127.52L203.10,125.84L204.78,127.52L203.10,129.20ZM207.18,127.52L208.86,125.84L210.54,127.52L208.86,129.20ZM212.94,127.52L214.62,125.84L216.30,127.52L214.62,129.20ZM218.70,127.52L220.38,125.84L222.06,127.52L220.38,129.20ZM224.46,127.52L226.14,125.84L227.82,127.52L226.14,129.20ZM230.22,127.52L231.90,125.84L233.58,127.52L231.90,129.20ZM235.98,127.52L237.66,125.84L239.34,127.52L237.66,129.20ZM241.74,127.52L243.42,125.84L245.10,127.52L243.42,129.20ZM247.50,127.52L249.18,125.84L250.86,127.52L249.18,129.20ZM253.26,127.52L254.94,125.84L256.62,127.52L254.94,129.20ZM259.02,127.52L260.70,125.84L262.38,127.52L260.70,129.20ZM264.78,127.52L266.46,125.84L268.14,127.52L266.46,129.20ZM54.54,130.40L56.22,128.72L57.90,130.40L56.22,132.08ZM60.30,130.40L61.98,128.72L63.66,130.40L61.98,132.08ZM66.06,130.40L67.74,128.72L69.42,130.40L67.74,132.08ZM71.82,130.40L73.50,128.72L75.18,130.40L73.50,132.08ZM77.58,130.40L79.26,128.72L80.94,130.40L79.26,132.08ZM83.34,130.40L85.02,128.72L86.70,130.40L85.02,132.08ZM89.10,130.40L90.78,128.72L92.46,130.40L90.78,132.08ZM94.86,130.40L96.54,128.72L98.22,130.40L96.54,132.08ZM100.62,130.40L102.30,128.72L103.98,130.40L102.30,132.08ZM106.38,130.40L108.06,128.72L109.74,130.40L108.06,132.08ZM112.14,130.40L113.82,128.72L115.50,130.40L113.82,132.08ZM117.90,130.40L119.58,128.72L121.26,130.40L119.58,132.08ZM123.66,130.40L125.34,128.72L127.02,130.40L125.34,132.08ZM129.42,130.40L131.10,128.72L132.78,130.40L131.10,132.08ZM135.18,130.40L136.86,128.72L138.54,130.40L136.86,132.08ZM140.94,130.40L142.62,128.72L144.30,130.40L142.62,132.08ZM146.70,130.40L148.38,128.72L150.06,130.40L148.38,132.08ZM152.46,130.40L154.14,128.72L155.82,130.40L154.14,132.08ZM158.22,130.40L159.90,128.72L161.58,130.40L159.90,132.08ZM163.98,130.40L165.66,128.72L167.34,130.40L165.66,132.08ZM169.74,130.40L171.42,128.72L173.10,130.40L171.42,132.08ZM175.50,130.40L177.18,128.72L178.86,130.40L177.18,132.08ZM181.26,130.40L182.94,128.72L184.62,130.40L182.94,132.08ZM187.02,130.40L188.70,128.72L190.38,130.40L188.70,132.08ZM192.78,130.40L194.46,128.72L196.14,130.40L194.46,132.08ZM198.54,130.40L200.22,128.72L201.90,130.40L200.22,132.08ZM204.30,130.40L205.98,128.72L207.66,130.40L205.98,132.08ZM210.06,130.40L211.74,128.72L213.42,130.40L211.74,132.08ZM215.82,130.40L217.50,128.72L219.18,130.40L217.50,132.08ZM221.58,130.40L223.26,128.72L224.94,130.40L223.26,132.08ZM227.34,130.40L229.02,128.72L230.70,130.40L229.02,132.08ZM233.10,130.40L234.78,128.72L236.46,130.40L234.78,132.08ZM57.42,133.28L59.10,131.60L60.78,133.28L59.10,134.96ZM63.18,133.28L64.86,131.60L66.54,133.28L64.86,134.96ZM68.94,133.28L70.62,131.60L72.30,133.28L70.62,134.96ZM74.70,133.28L76.38,131.60L78.06,133.28L76.38,134.96ZM80.46,133.28L82.14,131.60L83.82,133.28L82.14,134.96ZM86.22,133.28L87.90,131.60L89.58,133.28L87.90,134.96ZM91.98,133.28L93.66,131.60L95.34,133.28L93.66,134.96ZM97.74,133.28L99.42,131.60L101.10,133.28L99.42,134.96ZM103.50,133.28L105.18,131.60L106.86,133.28L105.18,134.96ZM109.26,133.28L110.94,131.60L112.62,133.28L110.94,134.96ZM115.02,133.28L116.70,131.60L118.38,133.28L116.70,134.96ZM120.78,133.28L122.46,131.60L124.14,133.28L122.46,134.96ZM126.54,133.28L128.22,131.60L129.90,133.28L128.22,134.96ZM132.30,133.28L133.98,131.60L135.66,133.28L133.98,134.96ZM138.06,133.28L139.74,131.60L141.42,133.28L139.74,134.96ZM143.82,133.28L145.50,131.60L147.18,133.28L145.50,134.96ZM149.58,133.28L151.26,131.60L152.94,133.28L151.26,134.96ZM155.34,133.28L157.02,131.60L158.70,133.28L157.02,134.96ZM161.10,133.28L162.78,131.60L164.46,133.28L162.78,134.96ZM166.86,133.28L168.54,131.60L170.22,133.28L168.54,134.96ZM172.62,133.28L174.30,131.60L175.98,133.28L174.30,134.96ZM178.38,133.28L180.06,131.60L181.74,133.28L180.06,134.96ZM184.14,133.28L185.82,131.60L187.50,133.28L185.82,134.96ZM189.90,133.28L191.58,131.60L193.26,133.28L191.58,134.96ZM195.66,133.28L197.34,131.60L199.02,133.28L197.34,134.96ZM54.54,136.16L56.22,134.48L57.90,136.16L56.22,137.84ZM60.30,136.16L61.98,134.48L63.66,136.16L61.98,137.84ZM66.06,136.16L67.74,134.48L69.42,136.16L67.74,137.84ZM71.82,136.16L73.50,134.48L75.18,136.16L73.50,137.84ZM77.58,136.16L79.26,134.48L80.94,136.16L79.26,137.84ZM83.34,136.16L85.02,134.48L86.70,136.16L85.02,137.84ZM89.10,136.16L90.78,134.48L92.46,136.16L90.78,137.84ZM94.86,136.16L96.54,134.48L98.22,136.16L96.54,137.84ZM100.62,136.16L102.30,134.48L103.98,136.16L102.30,137.84ZM106.38,136.16L108.06,134.48L109.74,136.16L108.06,137.84ZM112.14,136.16L113.82,134.48L115.50,136.16L113.82,137.84ZM117.90,136.16L119.58,134.48L121.26,136.16L119.58,137.84ZM123.66,136.16L125.34,134.48L127.02,136.16L125.34,137.84ZM129.42,136.16L131.10,134.48L132.78,136.16L131.10,137.84ZM135.18,136.16L136.86,134.48L138.54,136.16L136.86,137.84ZM140.94,136.16L142.62,134.48L144.30,136.16L142.62,137.84ZM146.70,136.16L148.38,134.48L150.06,136.16L148.38,137.84ZM152.46,136.16L154.14,134.48L155.82,136.16L154.14,137.84ZM158.22,136.16L159.90,134.48L161.58,136.16L159.90,137.84ZM163.98,136.16L165.66,134.48L167.34,136.16L165.66,137.84ZM57.42,139.04L59.10,137.36L60.78,139.04L59.10,140.72ZM63.18,139.04L64.86,137.36L66.54,139.04L64.86,140.72ZM68.94,139.04L70.62,137.36L72.30,139.04L70.62,140.72ZM74.70,139.04L76.38,137.36L78.06,139.04L76.38,140.72ZM80.46,139.04L82.14,137.36L83.82,139.04L82.14,140.72ZM86.22,139.04L87.90,137.36L89.58,139.04L87.90,140.72ZM91.98,139.04L93.66,137.36L95.34,139.04L93.66,140.72ZM97.74,139.04L99.42,137.36L101.10,139.04L99.42,140.72ZM103.50,139.04L105.18,137.36L106.86,139.04L105.18,140.72ZM109.26,139.04L110.94,137.36L112.62,139.04L110.94,140.72ZM115.02,139.04L116.70,137.36L118.38,139.04L116.70,140.72ZM120.78,139.04L122.46,137.36L124.14,139.04L122.46,140.72ZM126.54,139.04L128.22,137.36L129.90,139.04L128.22,140.72ZM132.30,139.04L133.98,137.36L135.66,139.04L133.98,140.72ZM138.06,139.04L139.74,137.36L141.42,139.04L139.74,140.72ZM54.54,141.92L56.22,140.24L57.90,141.92L56.22,143.60ZM60.30,141.92L61.98,140.24L63.66,141.92L61.98,143.60ZM66.06,141.92L67.74,140.24L69.42,141.92L67.74,143.60ZM71.82,141.92L73.50,140.24L75.18,141.92L73.50,143.60ZM77.58,141.92L79.26,140.24L80.94,141.92L79.26,143.60ZM83.34,141.92L85.02,140.24L86.70,141.92L85.02,143.60ZM89.10,141.92L90.78,140.24L92.46,141.92L90.78,143.60ZM94.86,141.92L96.54,140.24L98.22,141.92L96.54,143.60ZM100.62,141.92L102.30,140.24L103.98,141.92L102.30,143.60ZM106.38,141.92L108.06,140.24L109.74,141.92L108.06,143.60ZM57.42,144.80L59.10,143.12L60.78,144.80L59.10,146.48ZM63.18,144.80L64.86,143.12L66.54,144.80L64.86,146.48ZM68.94,144.80L70.62,143.12L72.30,144.80L70.62,146.48ZM74.70,144.80L76.38,143.12L78.06,144.80L76.38,146.48ZM80.46,144.80L82.14,143.12L83.82,144.80L82.14,146.48ZM86.22,144.80L87.90,143.12L89.58,144.80L87.90,146.48ZM54.54,147.68L56.22,146.00L57.90,147.68L56.22,149.36ZM60.30,147.68L61.98,146.00L63.66,147.68L61.98,149.36ZM66.06,147.68L67.74,146.00L69.42,147.68L67.74,149.36ZM71.82,147.68L73.50,146.00L75.18,147.68L73.50,149.36ZM57.42,150.56L59.10,148.88L60.78,150.56L59.10,152.24Z"/>
<path d="M76.08,295.9 V291.30 M76.08,7.45 V12.05 M113.15,295.9 V291.30 M113.15,7.45 V12.05 M150.22,295.9 V291.30 M150.22,7.45 V12.05 M187.28,295.9 V291.30 M187.28,7.45 V12.05 M224.35,295.9 V291.30 M224.35,7.45 V12.05 M261.42,295.9 V291.30 M261.42,7.45 V12.05 M298.49,295.9 V291.30 M298.49,7.45 V12.05 M335.56,295.9 V291.30 M335.56,7.45 V12.05 M48.55,223.79 H53.15 M372.89,223.79 H368.29 M48.55,151.67 H53.15 M372.89,151.67 H368.29 M48.55,79.56 H53.15 M372.89,79.56 H368.29" stroke="#888" stroke-width="1.0" fill="none"/>
<rect x="48.55" y="7.45" width="324.34" height="288.45" fill="none" stroke="#707070" stroke-width="1.3" stroke-linejoin="round"/>
<rect x="311.3" y="15.9" width="43.1" height="8.0" fill="#00ff00" stroke="#1a3a1a" stroke-width="0.6"/>
<clipPath id="cl"><rect x="311.3" y="31.5" width="43.1" height="8.0"/></clipPath>
<path clip-path="url(#cl)" fill="#ff6464" d="M303.14,25.27h2.88v2.88h-2.88ZM308.90,25.27h2.88v2.88h-2.88ZM314.66,25.27h2.88v2.88h-2.88ZM320.42,25.27h2.88v2.88h-2.88ZM326.18,25.27h2.88v2.88h-2.88ZM331.94,25.27h2.88v2.88h-2.88ZM337.70,25.27h2.88v2.88h-2.88ZM343.46,25.27h2.88v2.88h-2.88ZM349.22,25.27h2.88v2.88h-2.88ZM354.98,25.27h2.88v2.88h-2.88ZM306.02,28.15h2.88v2.88h-2.88ZM311.78,28.15h2.88v2.88h-2.88ZM317.54,28.15h2.88v2.88h-2.88ZM323.30,28.15h2.88v2.88h-2.88ZM329.06,28.15h2.88v2.88h-2.88ZM334.82,28.15h2.88v2.88h-2.88ZM340.58,28.15h2.88v2.88h-2.88ZM346.34,28.15h2.88v2.88h-2.88ZM352.10,28.15h2.88v2.88h-2.88ZM357.86,28.15h2.88v2.88h-2.88ZM303.14,31.03h2.88v2.88h-2.88ZM308.90,31.03h2.88v2.88h-2.88ZM314.66,31.03h2.88v2.88h-2.88ZM320.42,31.03h2.88v2.88h-2.88ZM326.18,31.03h2.88v2.88h-2.88ZM331.94,31.03h2.88v2.88h-2.88ZM337.70,31.03h2.88v2.88h-2.88ZM343.46,31.03h2.88v2.88h-2.88ZM349.22,31.03h2.88v2.88h-2.88ZM354.98,31.03h2.88v2.88h-2.88ZM306.02,33.91h2.88v2.88h-2.88ZM311.78,33.91h2.88v2.88h-2.88ZM317.54,33.91h2.88v2.88h-2.88ZM323.30,33.91h2.88v2.88h-2.88ZM329.06,33.91h2.88v2.88h-2.88ZM334.82,33.91h2.88v2.88h-2.88ZM340.58,33.91h2.88v2.88h-2.88ZM346.34,33.91h2.88v2.88h-2.88ZM352.10,33.91h2.88v2.88h-2.88ZM357.86,33.91h2.88v2.88h-2.88ZM303.14,36.79h2.88v2.88h-2.88ZM308.90,36.79h2.88v2.88h-2.88ZM314.66,36.79h2.88v2.88h-2.88ZM320.42,36.79h2.88v2.88h-2.88ZM326.18,36.79h2.88v2.88h-2.88ZM331.94,36.79h2.88v2.88h-2.88ZM337.70,36.79h2.88v2.88h-2.88ZM343.46,36.79h2.88v2.88h-2.88ZM349.22,36.79h2.88v2.88h-2.88ZM354.98,36.79h2.88v2.88h-2.88ZM306.02,39.67h2.88v2.88h-2.88ZM311.78,39.67h2.88v2.88h-2.88ZM317.54,39.67h2.88v2.88h-2.88ZM323.30,39.67h2.88v2.88h-2.88ZM329.06,39.67h2.88v2.88h-2.88ZM334.82,39.67h2.88v2.88h-2.88ZM340.58,39.67h2.88v2.88h-2.88ZM346.34,39.67h2.88v2.88h-2.88ZM352.10,39.67h2.88v2.88h-2.88ZM357.86,39.67h2.88v2.88h-2.88ZM303.14,42.55h2.88v2.88h-2.88ZM308.90,42.55h2.88v2.88h-2.88ZM314.66,42.55h2.88v2.88h-2.88ZM320.42,42.55h2.88v2.88h-2.88ZM326.18,42.55h2.88v2.88h-2.88ZM331.94,42.55h2.88v2.88h-2.88ZM337.70,42.55h2.88v2.88h-2.88ZM343.46,42.55h2.88v2.88h-2.88ZM349.22,42.55h2.88v2.88h-2.88ZM354.98,42.55h2.88v2.88h-2.88Z"/>
<rect x="311.3" y="31.5" width="43.1" height="8.0" fill="none" stroke="#3a1a1a" stroke-width="0.6"/>
<g filter="url(#tf)">
<text x="64.88" y="316.40" font-size="15.8" textLength="22.60" lengthAdjust="spacingAndGlyphs">200</text>
<text x="101.95" y="316.40" font-size="15.8" textLength="22.60" lengthAdjust="spacingAndGlyphs">400</text>
<text x="139.02" y="316.40" font-size="15.8" textLength="22.60" lengthAdjust="spacingAndGlyphs">600</text>
<text x="176.08" y="316.40" font-size="15.8" textLength="22.60" lengthAdjust="spacingAndGlyphs">800</text>
<text x="209.35" y="316.40" font-size="15.8" textLength="30.20" lengthAdjust="spacingAndGlyphs">1000</text>
<text x="246.42" y="316.40" font-size="15.8" textLength="30.20" lengthAdjust="spacingAndGlyphs">1200</text>
<text x="283.49" y="316.40" font-size="15.8" textLength="30.20" lengthAdjust="spacingAndGlyphs">1400</text>
<text x="320.56" y="316.40" font-size="15.8" textLength="30.20" lengthAdjust="spacingAndGlyphs">1600</text>
<text x="357.62" y="316.40" font-size="15.8" textLength="30.20" lengthAdjust="spacingAndGlyphs">1800</text>
<text x="31.60" y="300.65" font-size="15.8" textLength="7.40" lengthAdjust="spacingAndGlyphs">0</text>
<text x="18.70" y="228.54" font-size="15.8" textLength="20.30" lengthAdjust="spacingAndGlyphs">0.5</text>
<text x="31.60" y="156.42" font-size="15.8" textLength="7.40" lengthAdjust="spacingAndGlyphs">1</text>
<text x="18.70" y="84.31" font-size="15.8" textLength="20.30" lengthAdjust="spacingAndGlyphs">1.5</text>
<text x="31.60" y="12.20" font-size="15.8" textLength="7.40" lengthAdjust="spacingAndGlyphs">2</text>
<text x="202.3" y="335.5" font-size="15.3" class="it">p</text><text x="209.9" y="338.1" font-size="10.8" class="it" textLength="7.6" lengthAdjust="spacingAndGlyphs">T</text>
<g transform="translate(11.1,184.9) rotate(-90)"><text x="0" y="0" font-size="14.5" class="it" textLength="14.6" lengthAdjust="spacingAndGlyphs">dσ</text><text x="21.2" y="2.6" font-size="19" textLength="7.2" lengthAdjust="spacingAndGlyphs">/</text><text x="30.2" y="0" font-size="14.5" class="it" textLength="14.6" lengthAdjust="spacingAndGlyphs">dσ</text><text x="46.6" y="3.7" font-size="10.6" textLength="17.8" lengthAdjust="spacingAndGlyphs">LO</text></g>
<text x="58.8" y="29.2" font-size="11.7"><tspan class="it">R</tspan></text>
<text x="70.7" y="29.2" font-size="11.7" textLength="8.4" lengthAdjust="spacingAndGlyphs">=</text>
<text x="83.1" y="29.2" font-size="11.7" textLength="18.2" lengthAdjust="spacingAndGlyphs">0.7,</text>
<text x="106.3" y="29.2" font-size="11.7" textLength="12" lengthAdjust="spacingAndGlyphs">|<tspan class="it">η</tspan>|</text>
<text x="123.0" y="29.9" font-size="14.5" textLength="8.6" lengthAdjust="spacingAndGlyphs">&lt;</text>
<text x="135.6" y="29.2" font-size="11.7" textLength="14.4" lengthAdjust="spacingAndGlyphs">0.5</text>
<text x="277.2" y="24.2" font-size="11.7" textLength="24.1" lengthAdjust="spacingAndGlyphs">NLO</text>
<text x="243.60" y="40.1" font-size="11.7" textLength="24.1" lengthAdjust="spacingAndGlyphs">NLO</text>
<text x="269.10" y="40.7" font-size="14" textLength="8.4" lengthAdjust="spacingAndGlyphs">+</text>
<text x="278.30" y="40.1" font-size="11.7" textLength="15.1" lengthAdjust="spacingAndGlyphs">LL</text>
<text x="294.00" y="42.1" font-size="8.6" class="it" textLength="6.9" lengthAdjust="spacingAndGlyphs">R</text>
<text x="58.5" y="266.5" font-size="11.7" textLength="26.8" lengthAdjust="spacingAndGlyphs">NLO:</text>
<text x="91.30" y="266.5" font-size="11.7" textLength="25.6" lengthAdjust="spacingAndGlyphs"><tspan class="it">p</tspan><tspan class="it" font-size="8.5" dy="2">T</tspan><tspan dy="-2"> /2</tspan></text>
<text x="121.90" y="266.5" font-size="14.5" dy="0.7" textLength="9.3" lengthAdjust="spacingAndGlyphs">&lt;</text>
<text x="134.80" y="266.5" font-size="11.7" textLength="25.4" lengthAdjust="spacingAndGlyphs"><tspan class="it">μ</tspan><tspan class="it" font-size="8.5" dy="2">R,F</tspan></text>
<text x="165.80" y="266.5" font-size="14.5" dy="0.7" textLength="9.3" lengthAdjust="spacingAndGlyphs">&lt;</text>
<text x="178.10" y="266.5" font-size="11.7" textLength="17.8" lengthAdjust="spacingAndGlyphs">2<tspan class="it">p</tspan><tspan class="it" font-size="8.5" dy="2">T</tspan></text>
<text x="58.50" y="283" font-size="11.7" textLength="24.1" lengthAdjust="spacingAndGlyphs">NLO</text>
<text x="84.00" y="283.6" font-size="14" textLength="8.4" lengthAdjust="spacingAndGlyphs">+</text>
<text x="93.20" y="283" font-size="11.7" textLength="15.1" lengthAdjust="spacingAndGlyphs">LL</text>
<text x="108.90" y="285" font-size="8.6" class="it" textLength="6.9" lengthAdjust="spacingAndGlyphs">R</text>
<text x="117.40" y="283" font-size="11.7">:</text>
<text x="125.90" y="283" font-size="11.7" textLength="25.6" lengthAdjust="spacingAndGlyphs"><tspan class="it">p</tspan><tspan class="it" font-size="8.5" dy="2">T</tspan><tspan dy="-2"> /2</tspan></text>
<text x="156.50" y="283" font-size="14.5" dy="0.7" textLength="9.3" lengthAdjust="spacingAndGlyphs">&lt;</text>
<text x="169.40" y="283" font-size="11.7" textLength="25.4" lengthAdjust="spacingAndGlyphs"><tspan class="it">μ</tspan><tspan class="it" font-size="8.5" dy="2">R,F</tspan></text>
<text x="200.40" y="283" font-size="14.5" dy="0.7" textLength="9.3" lengthAdjust="spacingAndGlyphs">&lt;</text>
<text x="212.70" y="283" font-size="11.7" textLength="17.8" lengthAdjust="spacingAndGlyphs">2<tspan class="it">p</tspan><tspan class="it" font-size="8.5" dy="2">T</tspan></text>
</g>
</svg></body></html>
